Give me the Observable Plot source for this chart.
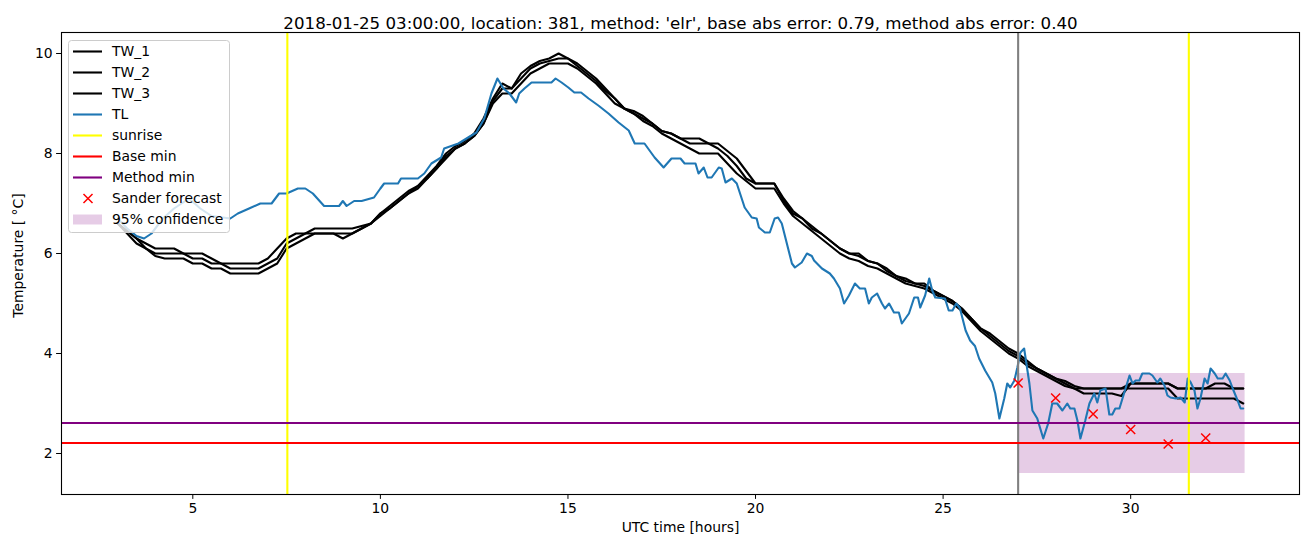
<!DOCTYPE html>
<html>
<head>
<meta charset="utf-8">
<script src="https://cdn.jsdelivr.net/npm/d3@7"></script>
<script src="https://cdn.jsdelivr.net/npm/@observablehq/plot@0.6"></script>
<style>
  html, body { margin: 0; padding: 0; background: white; }
  #wrap { position: relative; width: 1310px; height: 547px; font-family: "DejaVu Sans", sans-serif; }
  #legend { position: absolute; left: 68px; top: 40px; }
</style>
</head>
<body>
<div id="wrap"></div>
<script>
// ---------- data ----------
const titleText = "2018-01-25 03:00:00, location: 381, method: 'elr', base abs error: 0.79, method abs error: 0.40";
const xLabel = "UTC time [hours]";
const yLabel = "Temperature [ °C]";
const xTicks = [5, 10, 15, 20, 25, 30];
const yTicks = [2, 4, 6, 8, 10];

const seriesNames = ["TW_1", "TW_2", "TW_3", "TL"];
const sunriseHours = [7.52, 31.55];
const nowHour = [27];
const baseMin = [2.21];
const methodMin = [2.61];
const forecastHours = [27, 28, 29, 30, 31, 32];
const forecastTemps = [3.41, 3.11, 2.79, 2.48, 2.19, 2.31];
const bandHours = [27, 33.05];
const bandTemps = [1.6, 3.6];

// TW series on a quarter-hour grid 3.00 .. 33.00
const twHours = d3.range(3, 33.001, 0.25);
const tw1 = [
  6.6, 6.45, 6.3, 6.2,   6.1, 6.1, 6.1, 6.0,   6.0, 6.0, 5.9, 5.8,   5.8, 5.8, 5.8, 5.8,
  5.9, 6.1, 6.3, 6.4,    6.4, 6.5, 6.5, 6.5,   6.5, 6.5, 6.55, 6.6,  6.8, 6.95, 7.1, 7.25,
  7.35, 7.55, 7.75, 8.0, 8.15, 8.25, 8.4, 8.7, 9.1, 9.4, 9.3, 9.6,   9.75, 9.85, 9.9, 10.0,
  9.9, 9.8, 9.65, 9.5,   9.3, 9.1, 8.9, 8.85,  8.75, 8.6, 8.45, 8.4, 8.3, 8.3, 8.3, 8.2,
  8.2, 8.05, 7.9, 7.65,  7.4, 7.4, 7.4, 7.1,   6.85, 6.7, 6.55, 6.4, 6.25, 6.1, 6.0, 6.0,
  5.85, 5.8, 5.7, 5.55,  5.5, 5.4, 5.4, 5.25,  5.15, 5.05, 4.9, 4.7, 4.5, 4.4, 4.25, 4.1,
  4.0, 3.85, 3.7, 3.6,   3.5, 3.45, 3.35, 3.3, 3.3, 3.3, 3.3, 3.3,   3.4, 3.4, 3.4, 3.4,
  3.4, 3.3, 3.3, 3.3,    3.3, 3.4, 3.4, 3.3,   3.3
];
const tw2 = [
  6.6, 6.45, 6.3, 6.1,   6.0, 6.0, 6.0, 6.0,   5.9, 5.9, 5.8, 5.8,   5.7, 5.7, 5.7, 5.7,
  5.8, 5.9, 6.2, 6.3,    6.4, 6.4, 6.4, 6.4,   6.3, 6.4, 6.5, 6.6,   6.8, 6.9, 7.05, 7.2,
  7.35, 7.5, 7.7, 7.95,  8.1, 8.2, 8.35, 8.6,  9.05, 9.3, 9.3, 9.5,  9.7, 9.8, 9.85, 9.9,
  9.9, 9.75, 9.6, 9.45,  9.25, 9.1, 8.9, 8.8,  8.7, 8.6, 8.45, 8.4,  8.3, 8.2, 8.2, 8.2,
  8.1, 7.95, 7.75, 7.5,  7.4, 7.4, 7.4, 7.05,  6.8, 6.7, 6.5, 6.4,   6.25, 6.1, 6.0, 5.95,
  5.85, 5.8, 5.65, 5.55, 5.45, 5.4, 5.35, 5.25, 5.15, 5.05, 4.9, 4.7, 4.5, 4.35, 4.2, 4.05,
  3.95, 3.8, 3.7, 3.6,   3.5, 3.4, 3.3, 3.2,   3.2, 3.2, 3.2, 3.15,  3.4, 3.4, 3.4, 3.4,
  3.4, 3.3, 3.3, 3.3,    3.3, 3.3, 3.3, 3.3,   3.3
];
const tw3 = [
  6.6, 6.4, 6.2, 6.1,    5.95, 5.9, 5.9, 5.9,  5.8, 5.8, 5.7, 5.7,   5.6, 5.6, 5.6, 5.6,
  5.7, 5.8, 6.1, 6.2,    6.3, 6.4, 6.4, 6.4,   6.4, 6.4, 6.5, 6.6,   6.75, 6.9, 7.05, 7.2,
  7.3, 7.5, 7.7, 7.9,    8.1, 8.2, 8.35, 8.6,  9.0, 9.2, 9.2, 9.4,   9.6, 9.7, 9.8, 9.8,
  9.8, 9.7, 9.55, 9.4,   9.2, 9.0, 8.9, 8.8,   8.65, 8.55, 8.4, 8.3, 8.2, 8.1, 8.0, 8.0,
  8.0, 7.8, 7.6, 7.45,   7.3, 7.3, 7.3, 7.0,   6.75, 6.6, 6.45, 6.3, 6.15, 6.0, 5.9, 5.85,
  5.75, 5.7, 5.6, 5.5,   5.4, 5.35, 5.3, 5.2,  5.1, 5.0, 4.85, 4.65, 4.45, 4.3, 4.15, 4.0,
  3.9, 3.75, 3.65, 3.55, 3.45, 3.35, 3.3, 3.3, 3.3, 3.3, 3.3, 3.3,   3.3, 3.3, 3.3, 3.3,
  3.3, 3.1, 3.1, 3.1,    3.1, 3.1, 3.1, 3.1,   3.0
];

const tlHours = [3.0,3.25,3.5,3.7,3.9,4.2,4.5,4.9,5.2,5.5,6.0,6.2,6.5,6.8,7.1,7.3,7.5,7.8,8.0,8.2,8.5,8.9,9.0,9.1,9.3,9.5,9.83,10.0,10.1,10.47,10.55,11.0,11.17,11.36,11.62,11.7,12.08,12.34,12.56,12.77,12.96,13.12,13.28,13.44,13.62,13.7,13.84,14.03,14.56,14.67,14.83,15.01,15.17,15.35,15.55,15.81,16.08,16.35,16.62,16.78,17.04,17.31,17.55,17.76,18.0,18.11,18.4,18.48,18.62,18.72,18.83,19.02,19.1,19.2,19.37,19.5,19.71,19.9,20.03,20.09,20.25,20.38,20.51,20.6,20.7,20.97,21.05,21.23,21.37,21.5,21.56,21.77,21.98,22.09,22.25,22.36,22.49,22.65,22.78,22.92,23.02,23.1,23.24,23.37,23.45,23.56,23.69,23.82,23.9,24.09,24.23,24.33,24.39,24.52,24.63,24.71,24.79,25.05,25.15,25.25,25.35,25.45,25.6,25.72,25.85,25.96,26.12,26.31,26.39,26.5,26.63,26.71,26.79,26.9,26.98,27.06,27.16,27.3,27.38,27.51,27.67,27.8,27.91,28.04,28.18,28.31,28.39,28.5,28.58,28.66,28.79,28.9,29.03,29.11,29.19,29.33,29.43,29.51,29.59,29.7,29.83,29.97,30.05,30.13,30.23,30.31,30.5,30.58,30.71,30.79,30.9,30.98,31.06,31.2,31.33,31.44,31.52,31.6,31.7,31.78,31.86,31.97,32.05,32.13,32.24,32.32,32.45,32.53,32.64,32.72,32.85,32.93,33.0];
const tlTemps = [6.7,6.5,6.35,6.3,6.4,6.7,6.9,7.1,6.9,6.75,6.7,6.8,6.9,7.0,7.0,7.2,7.2,7.3,7.3,7.2,6.95,6.95,7.05,6.95,7.05,7.05,7.12,7.3,7.4,7.4,7.5,7.5,7.6,7.8,7.92,8.1,8.2,8.32,8.42,8.7,9.2,9.5,9.3,9.2,9.02,9.2,9.3,9.42,9.42,9.5,9.42,9.32,9.22,9.22,9.1,8.96,8.8,8.62,8.46,8.2,8.2,7.92,7.72,7.9,7.9,7.8,7.8,7.6,7.72,7.52,7.52,7.72,7.7,7.42,7.5,7.4,6.92,6.72,6.7,6.52,6.42,6.42,6.7,6.72,6.6,5.8,5.72,5.82,6.0,5.95,5.86,5.7,5.6,5.5,5.3,5.0,5.16,5.4,5.3,5.3,5.0,5.12,5.2,5.0,4.9,5.0,4.82,4.82,4.6,4.8,5.12,5.12,4.92,5.16,5.5,5.26,5.12,5.1,4.86,4.86,5.0,4.9,4.46,4.26,4.15,3.9,3.66,3.42,3.2,2.7,3.1,3.4,3.32,3.46,3.72,4.02,4.1,3.4,2.86,2.7,2.3,2.6,3.0,3.0,2.86,3.0,2.9,2.9,2.66,2.3,2.66,3.0,3.2,3.02,3.26,3.3,2.78,2.78,2.9,2.9,3.22,3.56,3.4,3.46,3.46,3.6,3.6,3.56,3.42,3.5,3.36,3.16,3.12,3.1,3.12,3.02,3.5,3.42,3.26,2.9,3.1,3.5,3.4,3.7,3.6,3.5,3.5,3.6,3.46,3.3,3.06,2.9,2.9];

// ---------- tables for the library ----------
const twTable = [];
[tw1, tw2, tw3].forEach((vals, k) => {
  vals.forEach((t, i) => twTable.push({series: seriesNames[k], h: twHours[i], t}));
});
const tlTable = tlHours.map((h, i) => ({series: seriesNames[3], h, t: tlTemps[i]}));
const forecastTable = forecastHours.map((h, i) => ({h, t: forecastTemps[i]}));
const bandTable = [{x1: bandHours[0], x2: bandHours[1], y1: bandTemps[0], y2: bandTemps[1]}];

const FONT = "DejaVu Sans, sans-serif";
const TL_BLUE = "#1f77b4";

const chart = Plot.plot({
  width: 1310,
  height: 547,
  marginLeft: 61,
  marginRight: 11,
  marginTop: 32,
  marginBottom: 53,
  style: {fontFamily: FONT, fontSize: "13.9px", background: "white", color: "black"},
  x: {domain: [1.5, 34.5]},
  y: {domain: [1.18, 10.42]},
  marks: [
    Plot.rect(bandTable, {x1: "x1", x2: "x2", y1: "y1", y2: "y2", fill: "purple", fillOpacity: 0.2}),
    Plot.line(twTable, {x: "h", y: "t", z: "series", stroke: "black", strokeWidth: 2.1}),
    Plot.line(tlTable, {x: "h", y: "t", stroke: TL_BLUE, strokeWidth: 2.1}),
    Plot.ruleX(nowHour, {stroke: "gray", strokeWidth: 2.1}),
    Plot.ruleX(sunriseHours, {stroke: "yellow", strokeWidth: 2.1}),
    Plot.ruleY(baseMin, {stroke: "red", strokeWidth: 2.1}),
    Plot.ruleY(methodMin, {stroke: "purple", strokeWidth: 2.1}),
    Plot.dot(forecastTable, {x: "h", y: "t", symbol: "times", r: 4.2, stroke: "red", strokeWidth: 1.5}),
    Plot.frame({stroke: "black", strokeWidth: 1.1}),
    Plot.axisX({ticks: xTicks, tickSize: 4.9, tickPadding: 4, label: null, fontSize: 13.9}),
    Plot.axisY({ticks: yTicks, tickSize: 4.9, tickPadding: 4, label: null, fontSize: 13.9}),
    Plot.text([titleText], {text: d => d, frameAnchor: "top", dy: -15, fontSize: 16.67, fill: "black"}),
    Plot.text([xLabel], {text: d => d, frameAnchor: "bottom", dy: 37, fontSize: 13.9, fill: "black"}),
    Plot.text([yLabel], {text: d => d, frameAnchor: "left", textAnchor: "middle", dx: -43, dy: -8, rotate: -90, fontSize: 13.9, fill: "black"})
  ]
});

const wrap = document.getElementById("wrap");
wrap.appendChild(chart);

// ---------- legend (overlay) ----------
const legendLabels = ["TW_1", "TW_2", "TW_3", "TL", "sunrise", "Base min", "Method min", "Sander forecast", "95% confidence"];
const legendStyle = [
  {kind: "line", color: "black"}, {kind: "line", color: "black"}, {kind: "line", color: "black"},
  {kind: "line", color: TL_BLUE}, {kind: "line", color: "yellow"}, {kind: "line", color: "red"},
  {kind: "line", color: "purple"}, {kind: "marker", color: "red"}, {kind: "patch", color: "purple"}
];
const lg = d3.select(wrap).append("svg")
  .attr("id", "legend").attr("width", 163).attr("height", 194)
  .style("font-family", FONT).style("font-size", "13.9px");
lg.append("rect").attr("x", 0.5).attr("y", 0.5).attr("width", 161).attr("height", 192)
  .attr("rx", 3).attr("fill", "white").attr("fill-opacity", 0.8).attr("stroke", "#cccccc");
legendLabels.forEach((label, i) => {
  const cy = 11.5 + i * 21;
  const s = legendStyle[i];
  if (s.kind === "line") {
    lg.append("line").attr("x1", 5).attr("x2", 34).attr("y1", cy).attr("y2", cy)
      .attr("stroke", s.color).attr("stroke-width", 2.1);
  } else if (s.kind === "marker") {
    lg.append("path").attr("d", d3.symbol(d3.symbolTimes, 55)())
      .attr("transform", `translate(20,${cy})`).attr("stroke", s.color).attr("stroke-width", 1.5).attr("fill", "none");
  } else {
    lg.append("rect").attr("x", 5).attr("y", cy - 5).attr("width", 29).attr("height", 10)
      .attr("fill", s.color).attr("fill-opacity", 0.2);
  }
  lg.append("text").attr("x", 44).attr("y", cy).attr("dy", "0.35em").attr("fill", "black").text(label);
});
</script>
</body>
</html>
